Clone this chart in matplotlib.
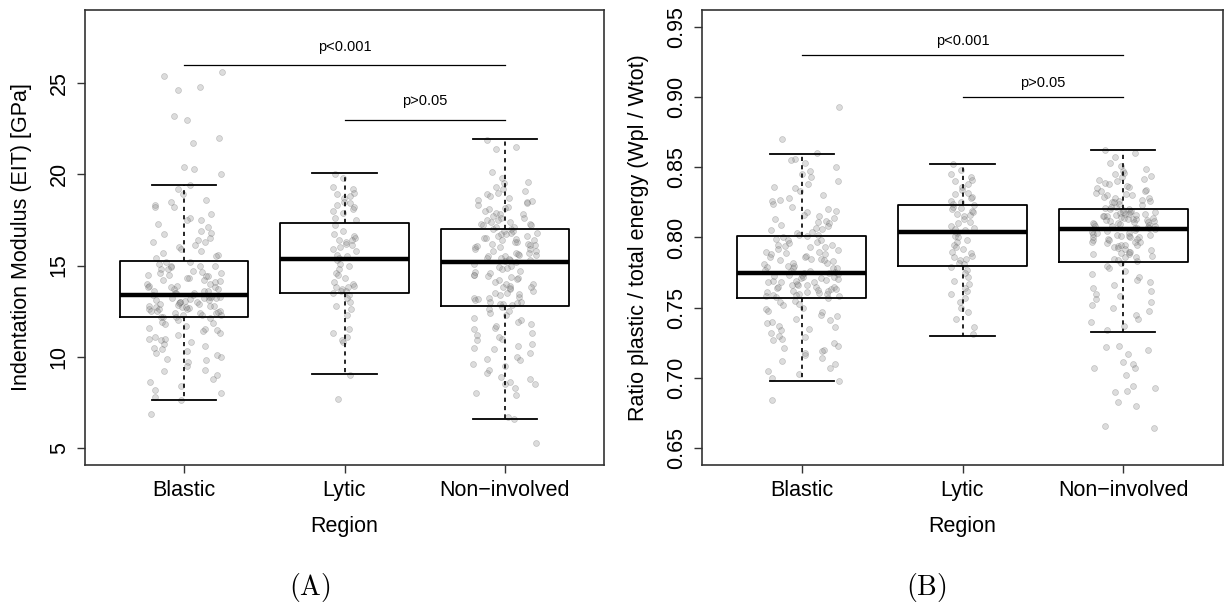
import numpy as np
import matplotlib.pyplot as plt

plt.rcParams['font.family'] = ['Liberation Sans', 'DejaVu Sans']
plt.rcParams['mathtext.fontset'] = 'cm'

# Categories
regions = ['Blastic', 'Lytic', 'Non\u2212involved']

# --- Panel A: indentation modulus (GPa), box statistics ---
eit_whislo = [7.61, 9.04, 6.61]
eit_q1 = [12.16, 13.51, 12.80]
eit_med = [13.38, 15.36, 15.21]
eit_q3 = [15.25, 17.35, 17.02]
eit_whishi = [19.41, 20.05, 21.93]

# individual measurements (estimated from the jittered points)
eit_blastic = [25.6, 25.4, 24.8, 24.6, 23.2, 23.0, 22.0, 21.7, 20.4, 20.3, 20.0, 19.4, 19.2, 18.9,
               18.6, 18.5, 18.3, 18.2, 18.2, 17.8, 17.6, 17.5, 17.5, 17.3, 17.1, 16.9, 16.8, 16.7,
               16.5, 16.4, 16.3, 16.3, 16.1, 16.0, 15.9, 15.8, 15.7, 15.6, 15.5, 15.4,
               15.2, 15.2, 15.1, 15.0, 15.0, 14.9, 14.8, 14.8, 14.7, 14.6, 14.6, 14.5, 14.5, 14.4,
               14.3, 14.3, 14.2, 14.2, 14.1, 14.0, 14.0, 13.9, 13.9, 13.8, 13.8, 13.7, 13.7, 13.6,
               13.6, 13.6, 13.5, 13.5, 13.5, 13.4, 13.4, 14.45, 14.65, 14.95, 13.85, 14.15,
               13.3, 13.3, 13.2, 13.2, 13.2, 13.1, 13.1, 13.0, 13.0, 13.0, 12.9, 12.9, 12.8, 12.8,
               12.8, 12.7, 12.7, 12.6, 12.6, 12.6, 12.5, 12.5, 12.5, 12.4, 12.4, 12.4, 12.3, 12.3,
               12.3, 12.2, 12.2, 12.2, 13.25, 13.05, 12.85, 12.65, 12.45, 13.15, 12.95, 12.75,
               12.1, 12.0, 11.9, 11.8, 11.7, 11.6, 11.5, 11.4, 11.3, 11.2, 11.1, 11.0, 10.9, 10.8,
               10.7, 10.5, 10.4, 10.3, 10.2, 10.1, 10.0, 9.9, 9.8, 9.7, 9.5, 9.3, 9.2, 9.0, 8.8,
               8.6, 8.4, 8.2, 8.0, 7.8, 7.63, 6.85, 11.85, 11.45, 10.95, 10.6]
eit_lytic = [20.0, 19.8, 19.3, 19.2, 19.0, 18.9, 18.8, 18.7, 18.5, 18.4, 18.3, 18.2, 18.1, 18.0,
             17.9, 17.6, 17.5,
             17.2, 16.9, 16.7, 16.6, 16.5, 16.4, 16.4, 16.3, 16.2, 16.1, 16.0, 15.9, 15.8, 15.6,
             15.5, 15.4,
             15.3, 15.1, 15.0, 14.8, 14.6, 14.5, 14.3, 14.1, 14.0, 13.9, 13.8, 13.8, 13.7, 13.6,
             13.6, 13.5,
             13.4, 13.2, 13.0, 12.8, 12.6, 12.3, 11.5, 11.3, 11.1, 10.9, 10.8, 9.0, 7.7]
eit_noninv = [21.9, 21.5, 21.4, 20.1, 19.8, 19.6, 19.5, 19.3, 19.2, 19.1, 19.0, 18.9, 18.8, 18.7,
              18.6, 18.5, 18.4, 18.3, 18.2, 18.1, 18.0, 17.9, 17.8, 17.8, 17.7, 17.6, 17.6, 17.5,
              17.5, 17.4, 17.4, 17.3, 17.3, 17.2, 17.2, 17.1, 17.1, 17.0, 18.15, 18.55,
              17.0, 16.9, 16.9, 16.8, 16.8, 16.7, 16.7, 16.6, 16.6, 16.5, 16.5, 16.4, 16.4, 16.3,
              16.3, 16.2, 16.2, 16.1, 16.1, 16.0, 16.0, 15.9, 15.9, 15.8, 15.8, 15.7, 15.7, 15.6,
              15.6, 15.5, 15.5, 15.4, 15.4, 15.3, 15.3, 15.25, 16.45, 16.05, 15.65, 15.35,
              15.2, 15.1, 15.0, 14.9, 14.8, 14.7, 14.6, 14.5, 14.5, 14.4, 14.3, 14.2, 14.1, 14.0,
              14.0, 13.9, 13.8, 13.7, 13.6, 13.5, 13.5, 13.4, 13.3, 13.2, 13.2, 13.1, 13.0, 13.0,
              12.9, 12.9, 12.85, 14.65, 14.25, 13.75, 13.45, 13.15, 12.95, 14.85, 14.35, 13.85,
              12.7, 12.6, 12.4, 12.3, 12.1, 12.0, 11.9, 11.8, 11.6, 11.5, 11.3, 11.2, 11.0, 10.9,
              10.7, 10.5, 10.4, 10.2, 10.0, 9.8, 9.6, 9.5, 9.3, 9.1, 8.9, 8.8, 8.6, 8.5, 8.3,
              8.0, 7.9, 6.7, 6.6, 5.3, 12.5, 11.7, 11.1, 10.6, 9.9, 8.5]

# --- Panel B: ratio plastic / total energy ---
ratio_whislo = [0.698, 0.730, 0.733]
ratio_q1 = [0.757, 0.780, 0.7825]
ratio_med = [0.775, 0.8036, 0.8058]
ratio_q3 = [0.8012, 0.8231, 0.8204]
ratio_whishi = [0.8596, 0.852, 0.8625]

ratio_blastic = [0.893, 0.870, 0.860, 0.856, 0.855, 0.853, 0.850, 0.847, 0.845, 0.843, 0.840,
                 0.838, 0.835, 0.833, 0.830, 0.828, 0.826, 0.824, 0.822, 0.820, 0.818, 0.816,
                 0.815, 0.813, 0.812, 0.811, 0.810, 0.809, 0.808, 0.807, 0.806, 0.805, 0.804,
                 0.803, 0.802, 0.8015, 0.827, 0.819, 0.814, 0.836,
                 0.801, 0.800, 0.799, 0.798, 0.797, 0.796, 0.795, 0.794, 0.793, 0.792, 0.791,
                 0.790, 0.789, 0.788, 0.787, 0.786, 0.785, 0.784, 0.783, 0.782, 0.781, 0.780,
                 0.779, 0.778, 0.777, 0.776, 0.7755, 0.7985, 0.7935, 0.7885, 0.7845, 0.7815,
                 0.7785, 0.7765, 0.786, 0.784, 0.790, 0.795, 0.780, 0.778,
                 0.775, 0.774, 0.773, 0.772, 0.771, 0.770, 0.769, 0.768, 0.767, 0.766, 0.765,
                 0.764, 0.763, 0.762, 0.761, 0.760, 0.759, 0.758, 0.7575, 0.7745, 0.7725, 0.7705,
                 0.7685, 0.7665, 0.7645, 0.7625, 0.7605, 0.7585, 0.771, 0.768, 0.765, 0.762,
                 0.760, 0.773, 0.769, 0.766, 0.763, 0.761, 0.759, 0.772,
                 0.757, 0.755, 0.754, 0.752, 0.750, 0.749, 0.747, 0.745, 0.744, 0.742, 0.740,
                 0.739, 0.737, 0.735, 0.734, 0.732, 0.730, 0.729, 0.727, 0.725, 0.723, 0.721,
                 0.720, 0.718, 0.716, 0.714, 0.712, 0.710, 0.707, 0.705, 0.703, 0.700, 0.698,
                 0.684, 0.753, 0.748, 0.741, 0.736, 0.728, 0.719]
ratio_lytic = [0.852, 0.848, 0.845, 0.843, 0.841, 0.840, 0.838, 0.836, 0.834, 0.832, 0.831, 0.829,
               0.828, 0.826, 0.825, 0.824,
               0.823, 0.822, 0.821, 0.820, 0.819, 0.818, 0.817, 0.816, 0.815, 0.813, 0.811, 0.810,
               0.808, 0.807, 0.806, 0.805,
               0.803, 0.801, 0.800, 0.798, 0.797, 0.795, 0.793, 0.792, 0.790, 0.789, 0.787, 0.786,
               0.785, 0.784, 0.782, 0.781,
               0.779, 0.777, 0.775, 0.772, 0.769, 0.767, 0.764, 0.762, 0.760, 0.757, 0.754, 0.750,
               0.747, 0.742, 0.736, 0.731]
ratio_noninv = [0.862, 0.860, 0.857, 0.853, 0.851, 0.849, 0.847, 0.845, 0.843, 0.842, 0.840,
                0.839, 0.838, 0.837, 0.835, 0.834, 0.833, 0.832, 0.831, 0.830, 0.829, 0.828,
                0.827, 0.826, 0.825, 0.824, 0.823, 0.822, 0.821, 0.8205, 0.836, 0.841, 0.828,
                0.826, 0.833, 0.830, 0.825, 0.822, 0.846, 0.844,
                0.820, 0.8195, 0.819, 0.8185, 0.818, 0.8175, 0.817, 0.8165, 0.816, 0.8155, 0.815,
                0.8145, 0.814, 0.8135, 0.813, 0.8125, 0.812, 0.8115, 0.811, 0.8105, 0.810,
                0.8095, 0.809, 0.8085, 0.808, 0.8075, 0.807, 0.8065, 0.806, 0.8185, 0.8155,
                0.8125, 0.8095, 0.8065, 0.817, 0.814, 0.811, 0.808, 0.816, 0.813,
                0.805, 0.804, 0.803, 0.802, 0.801, 0.800, 0.799, 0.798, 0.797, 0.796, 0.795,
                0.794, 0.793, 0.792, 0.791, 0.790, 0.789, 0.788, 0.787, 0.786, 0.785, 0.784,
                0.783, 0.8045, 0.8025, 0.8005, 0.7985, 0.7965, 0.7945, 0.7925, 0.790, 0.788,
                0.786, 0.801, 0.799, 0.803, 0.797, 0.795, 0.800, 0.802,
                0.782, 0.780, 0.778, 0.776, 0.774, 0.772, 0.770, 0.768, 0.766, 0.764, 0.762,
                0.760, 0.758, 0.756, 0.754, 0.752, 0.750, 0.748, 0.745, 0.742, 0.740, 0.737,
                0.734, 0.722, 0.723, 0.720, 0.717, 0.711, 0.710, 0.707, 0.707, 0.702, 0.694,
                0.693, 0.691, 0.690, 0.683, 0.680, 0.666, 0.664]

# significance brackets: (from, to, height, label)
eit_sig = [(1, 3, 26.0, 'p<0.001'), (2, 3, 23.0, 'p>0.05')]
ratio_sig = [(1, 3, 0.93, 'p<0.001'), (2, 3, 0.90, 'p>0.05')]

# --- figure layout (pixels of a 1225x608 canvas) ---
W, H = 1225, 608
fig = plt.figure(figsize=(W / 100, H / 100), dpi=100)
axA = fig.add_axes([85 / W, (H - 465) / H, (604 - 85) / W, 455 / H])
axB = fig.add_axes([702 / W, (H - 465) / H, (1223 - 702) / W, 455 / H])

jitter_width = [0.235, 0.075, 0.2]


def jitter(n, seed_mult):
    i = np.arange(1, n + 1)
    return ((i * i * 0.6180339887 + i * seed_mult) % 1.0) - 0.5


def draw_panel(ax, lo, q1, med, q3, hi, groups, sig, txt_off, ylim, yticks, ylabel):
    stats = []
    for k in range(3):
        stats.append(dict(med=med[k], q1=q1[k], q3=q3[k], whislo=lo[k], whishi=hi[k], fliers=[]))

    # jittered points
    for k, vals in enumerate(groups):
        xs = (k + 1) + 2 * jitter_width[k] * jitter(len(vals), 0.3819 + 0.11 * k)
        ax.scatter(xs, vals, s=18, facecolor='#8c8c8c', edgecolors='#555555', linewidths=0.5,
                   alpha=0.3, zorder=1)

    ax.bxp(stats, positions=[1, 2, 3], widths=0.8, capwidths=0.4, showfliers=False,
           boxprops=dict(color='black', linewidth=1.3),
           medianprops=dict(color='black', linewidth=3.2, solid_capstyle='butt'),
           whiskerprops=dict(color='black', linewidth=1.2, linestyle=(0, (2.5, 2.5))),
           capprops=dict(color='black', linewidth=1.3), zorder=2)

    for a, b, yv, lab in sig:
        ax.plot([a, b], [yv, yv], color='black', linewidth=0.9)
        ax.text((a + b) / 2, yv + txt_off, lab, ha='center', va='center', fontsize=10.5)

    ax.set_xlim(0.38, 3.62)
    ax.set_ylim(*ylim)
    ax.set_xticks([1, 2, 3])
    ax.set_xticklabels(regions, fontsize=15.5)
    ax.set_yticks(yticks)
    ax.set_yticklabels([str(t) if isinstance(t, int) else f'{t:.2f}' for t in yticks],
                       fontsize=15.5, rotation=90, va='center')
    ax.tick_params(axis='both', length=6, width=1.0, color='#333333', direction='out')
    ax.tick_params(axis='x', pad=5)
    ax.tick_params(axis='y', pad=5)
    for sp in ax.spines.values():
        sp.set_linewidth(1.2)
        sp.set_color('#333333')
    ax.set_xlabel('Region', fontsize=15.5, labelpad=10.5)
    ax.set_ylabel(ylabel, fontsize=15.5, labelpad=12)


draw_panel(axA, eit_whislo, eit_q1, eit_med, eit_q3, eit_whishi,
           [eit_blastic, eit_lytic, eit_noninv], eit_sig, 1.0,
           (4.07, 29.0), [5, 10, 15, 20, 25], 'Indentation Modulus (EIT) [GPa]')
draw_panel(axB, ratio_whislo, ratio_q1, ratio_med, ratio_q3, ratio_whishi,
           [ratio_blastic, ratio_lytic, ratio_noninv], ratio_sig, 0.01,
           (0.638, 0.962), [0.65, 0.70, 0.75, 0.80, 0.85, 0.90, 0.95],
           'Ratio plastic / total energy (Wpl / Wtot)')

fig.text(310 / W, 1 - 588 / H, r'$\mathrm{(A)}$', ha='center', va='center', fontsize=20)
fig.text(926 / W, 1 - 588 / H, r'$\mathrm{(B)}$', ha='center', va='center', fontsize=20)

fig.savefig('out.png', dpi=100, facecolor='white')
